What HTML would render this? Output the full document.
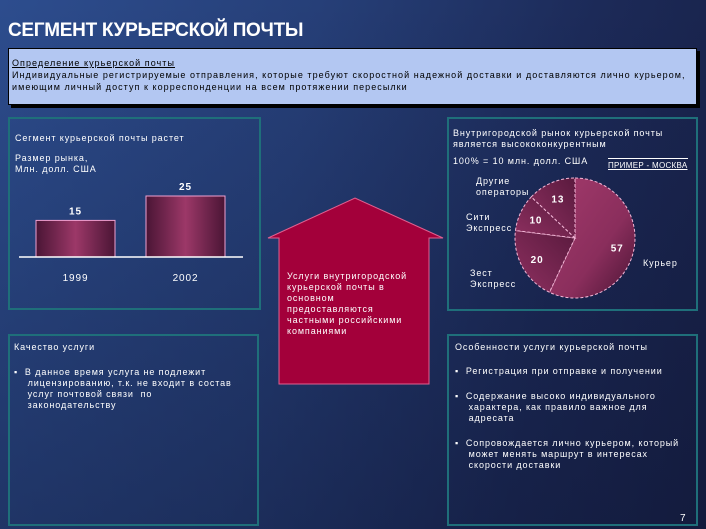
<!DOCTYPE html>
<html><head><meta charset="utf-8">
<style>
body{margin:0;width:706px;height:529px;overflow:hidden;font-family:"Liberation Sans","Noto Sans CJK SC",sans-serif;}
#page{position:relative;width:706px;height:529px;background:linear-gradient(100deg,#2d4d8e 0%,#263f78 40%,#1c2a58 75%,#182148 100%);overflow:hidden;}
#shade{position:absolute;inset:0;background:linear-gradient(180deg,rgba(0,0,0,0) 0%,rgba(10,15,40,0.35) 100%);}
.t{position:absolute;color:#fff;font-size:9px;line-height:11px;letter-spacing:0.9px;white-space:nowrap;}
.panel{position:absolute;border:2px solid #1f6f7a;box-sizing:border-box;}
svg text{letter-spacing:0.9px;}
</style></head><body>
<div id="page">
<div id="shade"></div>
<div class="t" style="left:8px;top:20px;font-size:19px;line-height:22px;font-weight:bold;letter-spacing:-0.3px;">СЕГМЕНТ КУРЬЕРСКОЙ ПОЧТЫ</div>

<div style="position:absolute;left:8px;top:48px;width:687px;height:55px;background:#b3c7f2;border:1px solid #000;box-shadow:3px 3px 0 #000;">
<div style="position:absolute;left:3px;top:8px;font-size:9px;line-height:12px;color:#000;letter-spacing:1.05px;white-space:nowrap;">
<span style="text-decoration:underline;">Определение курьерской почты</span><br>
<span>Индивидуальные регистрируемые отправления, которые требуют скоростной надежной доставки и доставляются лично курьером,<br>имеющим личный доступ к корреспонденции на всем протяжении пересылки</span></div>
</div>

<div class="panel" style="left:8px;top:117px;width:253px;height:193px;"></div>
<div class="t" style="left:15px;top:133px;">Сегмент курьерской почты растет</div>
<div class="t" style="left:15px;top:153px;">Размер рынка,<br>Млн. долл. США</div>

<div class="panel" style="left:8px;top:334px;width:251px;height:192px;"></div>
<div class="t" style="left:14px;top:342px;">Качество услуги</div>
<div class="t" style="left:14px;top:367px;">▪&nbsp; В данное время услуга не подлежит<br>&nbsp;&nbsp;&nbsp;&nbsp;лицензированию, т.к. не входит в состав<br>&nbsp;&nbsp;&nbsp;&nbsp;услуг почтовой связи&nbsp; по<br>&nbsp;&nbsp;&nbsp;&nbsp;законодательству</div>

<div class="panel" style="left:447px;top:117px;width:251px;height:194px;"></div>
<div class="t" style="left:453px;top:128px;">Внутригородской рынок курьерской почты<br>является высококонкурентным</div>
<div class="t" style="left:453px;top:156px;">100% = 10 млн. долл. США</div>
<div class="t" style="left:608px;top:158px;font-size:8px;letter-spacing:0.3px;text-decoration:underline;border-top:1px solid #fff;padding-top:1px;">ПРИМЕР - МОСКВА</div>

<div class="panel" style="left:447px;top:334px;width:251px;height:192px;"></div>
<div class="t" style="left:455px;top:342px;">Особенности услуги курьерской почты</div>
<div class="t" style="left:455px;top:366px;">▪&nbsp; Регистрация при отправке и получении</div>
<div class="t" style="left:455px;top:391px;">▪&nbsp; Содержание высоко индивидуального<br>&nbsp;&nbsp;&nbsp;&nbsp;характера, как правило важное для<br>&nbsp;&nbsp;&nbsp;&nbsp;адресата</div>
<div class="t" style="left:455px;top:438px;">▪&nbsp; Сопровождается лично курьером, который<br>&nbsp;&nbsp;&nbsp;&nbsp;может менять маршрут в интересах<br>&nbsp;&nbsp;&nbsp;&nbsp;скорости доставки</div>
<div class="t" style="left:680px;top:513px;font-size:10px;">7</div>

<svg width="706" height="529" style="position:absolute;left:0;top:0" id="svg">
<defs>
<linearGradient id="barg" x1="0" x2="1" y1="0" y2="0"><stop offset="0" stop-color="#4a1535"/><stop offset="0.5" stop-color="#9c3868"/><stop offset="1" stop-color="#4a1535"/></linearGradient>
<linearGradient id="pieg" x1="0" x2="1" y1="0" y2="1"><stop offset="0" stop-color="#a33a6c"/><stop offset="0.6" stop-color="#8a2e5c"/><stop offset="1" stop-color="#4a1434"/></linearGradient>
<linearGradient id="pieg2" x1="1" x2="0" y1="0" y2="1"><stop offset="0" stop-color="#5a1a3e"/><stop offset="1" stop-color="#8e3060"/></linearGradient>
</defs>
<polygon points="268,238 355,198 443,238 429,238 429,384 279,384 279,238" fill="#a3003a" stroke="#e06090" stroke-width="1"/>
<text x="287" y="279" fill="#fff" font-size="9" font-family="Liberation Sans,sans-serif"><tspan x="287" dy="0">Услуги внутригородской</tspan><tspan x="287" dy="11">курьерской почты в</tspan><tspan x="287" dy="11">основном</tspan><tspan x="287" dy="11">предоставляются</tspan><tspan x="287" dy="11">частными российскими</tspan><tspan x="287" dy="11">компаниями</tspan></text>
<g id="bars"></g>
<g id="pie"></g>
</svg>
</div>
<script>
const years=["1999","2002"];
const marketSize=[15,25];
const pieLabels=["Курьер","Зест Экспресс","Сити Экспресс","Другие операторы"];
const pieValues=[57,20,10,13];

const NS="http://www.w3.org/2000/svg";
function mk(tag,attrs,parent){const e=document.createElementNS(NS,tag);for(const k in attrs)e.setAttribute(k,attrs[k]);parent.appendChild(e);return e;}
const bg=document.getElementById('bars');
const baseY=257, pxPer=2.44, x0=36, step=110, bw=79;
const yScale=v=>baseY-v*pxPer;
years.forEach((yr,i)=>{
  const x=x0+i*step, y=yScale(marketSize[i]);
  const r=mk('rect',{x:x,y:y,width:bw,height:baseY-y,fill:'url(#barg)',stroke:'#f0a0d0','stroke-width':1},bg);
  
  
  const v=mk('text',{x:x+bw/2,y:y-6,fill:'#fff','font-size':10,'font-weight':'bold','text-anchor':'middle','font-family':'Liberation Sans,sans-serif'},bg);
  v.textContent=marketSize[i];
  
  
  const l=mk('text',{x:x+bw/2,y:baseY+24,fill:'#fff','font-size':10,'text-anchor':'middle','font-family':'Liberation Sans,sans-serif'},bg);
  l.textContent=yr;
  
  
});
const ax=mk('line',{x1:19,x2:243,y1:baseY,y2:baseY,stroke:'#fff','stroke-width':1.5},bg);


const pg=document.getElementById('pie');
const cx=575, cy=238, R=60;
const total=pieValues.reduce((a,b)=>a+b,0);
const pt=(a,r)=>[cx+r*Math.sin(a),cy-r*Math.cos(a)];
const labelPos=[[643,266],[470,276],[466,220],[476,184]];
let acc=0;
pieValues.forEach((v,i)=>{
  const a0=acc/total*2*Math.PI; acc+=v; const a1=acc/total*2*Math.PI;
  const p0=pt(a0,R),p1=pt(a1,R),large=(a1-a0)>Math.PI?1:0;
  const p=mk('path',{d:`M${cx},${cy}L${p0[0]},${p0[1]}A${R},${R} 0 ${large} 1 ${p1[0]},${p1[1]}Z`,fill:i==0?'url(#pieg)':'url(#pieg2)',stroke:'#f4b8d8','stroke-width':1,'stroke-dasharray':'3,2'},pg);
  
  
  const am=(a0+a1)/2, vp=pt(am,R*0.72);
  const t=mk('text',{x:vp[0],y:vp[1]+4,fill:'#fff','font-size':10,'font-weight':'bold','text-anchor':'middle','font-family':'Liberation Sans,sans-serif'},pg);
  t.textContent=v;
  
  
  const lp=labelPos[i];
  const words=pieLabels[i].split(' ');
  const lt=mk('text',{x:lp[0],y:lp[1],fill:'#fff','font-size':9,'font-family':'Liberation Sans,sans-serif'},pg);
  words.forEach((w,j)=>{const ts=mk('tspan',{x:lp[0],dy:j?11:0},lt);ts.textContent=w;});
  
  
});
</script>
</body></html>
